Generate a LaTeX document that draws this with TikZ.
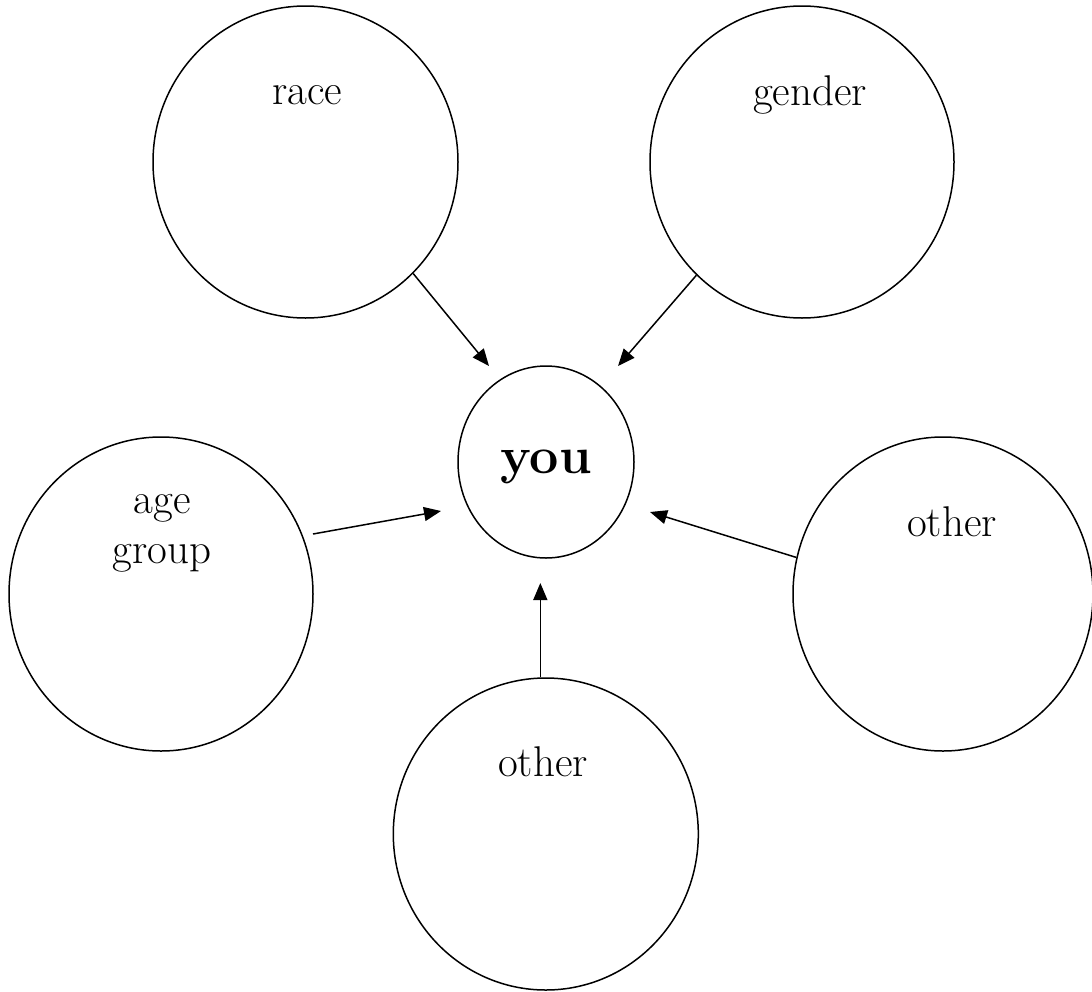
\documentclass[tikz,border=0pt]{standalone}
\usetikzlibrary{shapes.geometric,arrows.meta}
\begin{document}
\begin{tikzpicture}[x=1pt,y=-1pt,
  bubble/.style={draw,ellipse,line width=1.5pt,inner sep=0pt},
  lbl/.style={anchor=base,font=\fontsize{43}{50}\selectfont,inner sep=0pt,align=center},
  link/.style={line width=1.5pt,-{Triangle[length=17pt,width=14pt]}}]
\useasboundingbox (0,0) rectangle (1092,991);
% circles
\node[bubble,minimum width=305pt,minimum height=312pt] (race) at (305.5,162) {};
\node[bubble,minimum width=304pt,minimum height=312pt] (gender) at (802,162) {};
\node[bubble,minimum width=176pt,minimum height=192pt] (you) at (546,462) {};
\node[bubble,minimum width=304pt,minimum height=314pt] (age) at (161,594) {};
\node[bubble,minimum width=300pt,minimum height=314pt] (othr) at (943,594) {};
\node[bubble,minimum width=305pt,minimum height=312pt] (othb) at (545.8,834) {};
% labels
\node[lbl] (racet) at (307,104) {race};
\node[lbl] (gendert) at (810,105) {gender};
\node[lbl,font=\fontsize{52}{60}\selectfont\bfseries] (yout) at (546,473) {you};
\node[lbl] (aget) at (162,513) {age};
\node[lbl] (groupt) at (162,563) {group};
\node[lbl] (othrt) at (952,536) {other};
\node[lbl] (othbt) at (543,776) {other};
% free ends
\coordinate (sage) at (313,534);
\coordinate (t1) at (489,366);
\coordinate (t2) at (618,366);
\coordinate (t3) at (441,511);
\coordinate (t4) at (650,512);
\coordinate (t5) at (538,583);
% connectors
\draw[link] (race.-46.2) -- (t1);
\draw[link] (gender.-133.7) -- (t2);
\draw[link] (sage) -- (t3);
\draw[link] (othr.166.4) -- (t4);
\draw[link] (othb.92.9) -- (othb.92.9 |- t5);
\end{tikzpicture}
\end{document}
